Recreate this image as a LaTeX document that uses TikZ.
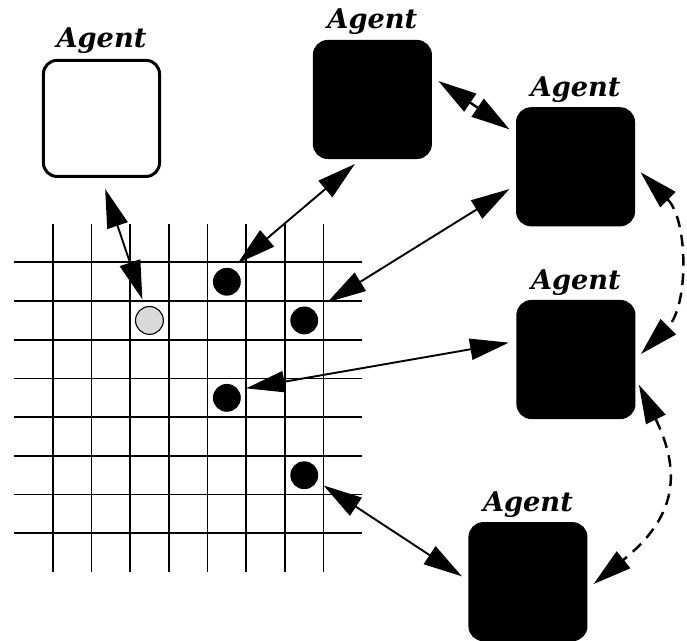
\documentclass[tikz,border=0pt]{standalone}
\usepackage{fontspec}
\newfontfamily\agentfont{DejaVu Serif}
\usetikzlibrary{arrows.meta,positioning}

\begin{document}
\begin{tikzpicture}[
		agent/.style={draw, line width=2.2pt, rounded corners=0.35cm, minimum size=3cm, inner sep=0pt},
		busy/.style={agent, fill=black},
		agentname/.style={font=\agentfont\bfseries\itshape\fontsize{20}{22}\selectfont, inner sep=0pt},
		token/.style={circle, fill=black, minimum size=0.72cm, inner sep=0pt},
		link/.style={line width=1.4pt, {Triangle[length=1cm,width=0.55cm]}-{Triangle[length=1cm,width=0.55cm]}, shorten <=0.2cm, shorten >=0.2cm},
		dlink/.style={link, line width=1.8pt, dash pattern=on 0.3cm off 0.2cm}]
		\useasboundingbox (-0.362,-1.78) rectangle (17.39,14.78);
		\foreach \i in {1,...,8} {
			\draw[line width=1.3pt] (\i,0) -- (\i,9);
			\draw[line width=1.3pt] (0,\i) -- (9,\i);
		}
		\node[token, fill=gray!30, draw, line width=0.8pt] (c0) at (3.5,6.5) {};
		\node[token] (c1) at (5.5,7.5) {};
		\node[token] (c2) at (7.5,6.5) {};
		\node[token] (c3) at (5.5,4.5) {};
		\node[token] (c4) at (7.5,2.5) {};
		\node[agent] (a1) at (2.26,11.72) {};
		\node[busy] (a2) at (9.26,12.21) {};
		\node[busy] (a3) at (14.51,10.47) {};
		\node[busy] (a4) at (14.52,5.49) {};
		\node[busy] (a5) at (13.28,-0.25) {};
		\node[agentname, above=0.12cm of a1] (n1) {Agent};
		\node[agentname, above=0.12cm of a2] (n2) {Agent};
		\node[agentname, above=0.12cm of a3] (n3) {Agent};
		\node[agentname, above=0.12cm of a4] (n4) {Agent};
		\node[agentname, above=0.12cm of a5] (n5) {Agent};
		\draw[link, shorten <=0.3cm] (a1.south) -- (c0);
		\draw[link] (a2.259) -- (c1.70);
		\draw[link, shorten >=0.4cm] (a3.197) -- (c2.45);
		\draw[link] (a4.163) -- (c3.35);
		\draw[link] (c4.-25) -- (a5.179);
		\draw[dlink] (a2.21) -- (a3.151);
		\draw[dlink] (a3.east) to[out=-45,in=45] (a4.east);
		\draw[dlink] (a4.-17) to[out=-64,in=39,looseness=1.3] (a5.-7);
	\end{tikzpicture}
\end{document}
